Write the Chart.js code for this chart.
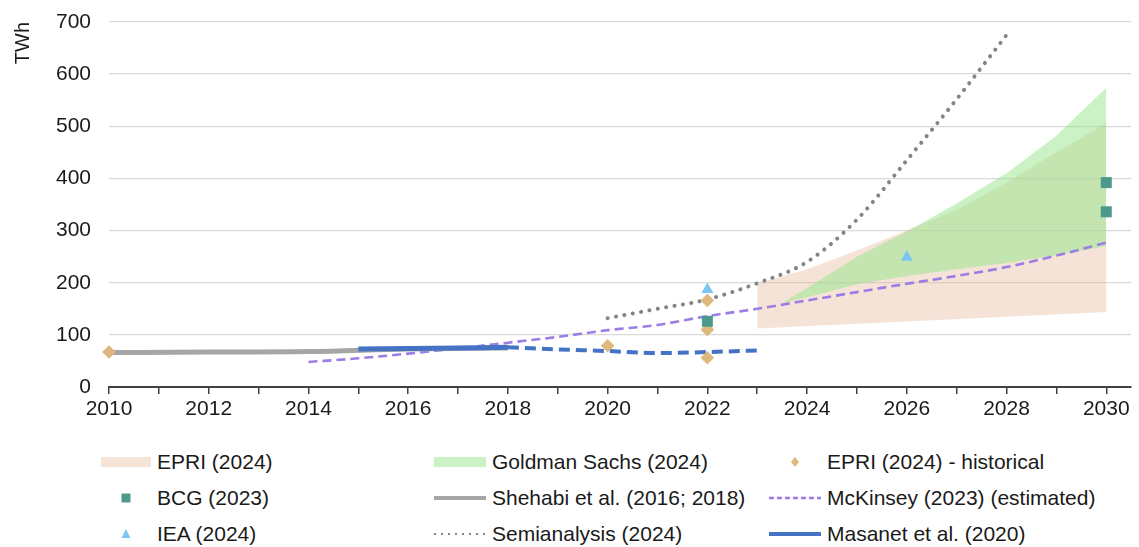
<!DOCTYPE html>
<html lang="en">
<head>
  <meta charset="UTF-8">
  <title>Data centre electricity use estimates</title>
  <style>
    body {
      margin: 0;
      background: #fff;
      font-family: 'Liberation Sans', Arial, sans-serif;
    }
    #wrap {
      position: relative;
      width: 1139px;
      height: 547px;
    }
    .chart-box {
      position: absolute;
      left: 0;
      top: 0;
      width: 1139px;
      height: 430px;
    }
    #legend {
      position: absolute;
      left: 0;
      top: 444px;
      width: 1139px;
    }
    .legend-item {
      position: absolute;
      display: flex;
      align-items: center;
      height: 36px;
      font-size: 21px;
      color: #1a1a1a;
      white-space: nowrap;
    }
    .legend-item canvas {
      margin-right: 6px;
    }
  </style>
  <script src="https://cdn.jsdelivr.net/npm/chart.js"></script>
</head>
<body>
  <div id="wrap">
    <div class="chart-box"><canvas id="chart"></canvas></div>
    <div id="legend"></div>
  </div>

  <script>
    // Values (TWh)
    const epriBandUpperX = [2023, 2024, 2025, 2026, 2027, 2028, 2029, 2030];
    const epriBandUpperY = [199, 226, 262, 300, 340, 392, 450, 506];
    const epriBandLowerX = [2023, 2030];
    const epriBandLowerY = [112, 144];

    const gsUpperX = [2023.5, 2024, 2025, 2026, 2027, 2028, 2029, 2030];
    const gsUpperY = [161, 190, 250, 298, 352, 410, 482, 574];
    const gsLowerX = [2023.5, 2024, 2025, 2026, 2027, 2028, 2029, 2030];
    const gsLowerY = [161, 172, 197, 213, 226, 238, 253, 270];

    const epriHistX = [2010, 2020, 2022, 2022, 2022];
    const epriHistY = [67, 79, 166, 110, 56];

    const bcgX = [2022, 2030, 2030];
    const bcgY = [126, 392, 336];

    const ieaX = [2022, 2026];
    const ieaY = [187, 249];

    const shehabiX = [2010, 2012, 2014, 2016, 2018];
    const shehabiY = [66, 67, 68, 73, 75];

    const mckinseyX = [2014, 2015, 2016, 2017, 2018, 2019, 2020, 2021, 2022, 2023, 2024, 2025, 2026, 2027, 2028, 2029, 2030];
    const mckinseyY = [48, 55, 64, 74, 85, 96, 109, 119, 136, 150, 166, 182, 198, 213, 230, 252, 277];

    const semiX = [2020, 2021, 2022, 2023, 2024, 2025, 2026, 2027, 2028];
    const semiY = [132, 150, 168, 199, 240, 321, 435, 552, 675];

    const masanetX = [2015, 2016, 2017, 2018];
    const masanetY = [73, 74, 75, 76];
    const masanetProjX = [2018, 2019, 2020, 2021, 2022, 2023];
    const masanetProjY = [76, 72, 69, 65, 67, 70];

    const yTicks = [0, 100, 200, 300, 400, 500, 600, 700];

    const colors = {
      epri: 'rgba(228,186,152,0.4)',
      gs: 'rgba(150,230,140,0.5)',
      hist: '#deb97e',
      bcg: '#4d9a8c',
      iea: '#7cc7f2',
      shehabi: '#a6a6a6',
      mckinsey: '#9a7ee6',
      semi: '#858585',
      masanet: '#4472c4'
    };

    const pts = (xs, ys) => xs.map((x, i) => ({ x: x, y: ys[i] }));

    const markerSet = (label, xs, ys, color, style, radius) => ({
      label: label,
      data: pts(xs, ys),
      showLine: false,
      clip: false,
      pointStyle: style,
      pointRadius: radius,
      pointBackgroundColor: color,
      pointBorderWidth: 0,
      borderColor: color,
      backgroundColor: color
    });

    const lineSet = (label, xs, ys, color, width, dash, cap) => ({
      label: label,
      data: pts(xs, ys),
      borderColor: color,
      borderWidth: width,
      borderDash: dash || [],
      borderCapStyle: cap || 'butt',
      pointRadius: 0,
      fill: false,
      cubicInterpolationMode: 'monotone'
    });

    // first dataset is drawn on top
    const datasets = [
      markerSet('BCG (2023)', bcgX, bcgY, colors.bcg, 'rect', 7.8),
      markerSet('EPRI (2024) - historical', epriHistX, epriHistY, colors.hist, 'rectRot', 6.8),
      markerSet('IEA (2024)', ieaX, ieaY, colors.iea, 'triangle', 7),
      lineSet('Masanet et al. (2020)', masanetX, masanetY, colors.masanet, 5),
      lineSet('Masanet proj', masanetProjX, masanetProjY, colors.masanet, 4, [11, 6]),
      lineSet('Shehabi et al. (2016; 2018)', shehabiX, shehabiY, colors.shehabi, 5),
      lineSet('McKinsey (2023) (estimated)', mckinseyX, mckinseyY, colors.mckinsey, 2.6, [9, 5]),
      lineSet('Semianalysis (2024)', semiX, semiY, colors.semi, 4, [0.1, 8.4], 'round'),
      {
        label: 'Goldman Sachs (2024)',
        data: pts(gsUpperX, gsUpperY),
        borderWidth: 0,
        pointRadius: 0,
        backgroundColor: colors.gs,
        fill: '+1'
      },
      {
        label: 'gs lower',
        data: pts(gsLowerX, gsLowerY),
        borderWidth: 0,
        pointRadius: 0,
        fill: false
      },
      {
        label: 'EPRI (2024)',
        data: pts(epriBandUpperX, epriBandUpperY),
        borderWidth: 0,
        pointRadius: 0,
        backgroundColor: colors.epri,
        fill: '+1'
      },
      {
        label: 'epri lower',
        data: pts(epriBandLowerX, epriBandLowerY),
        borderWidth: 0,
        pointRadius: 0,
        fill: false
      }
    ];

    const chartHeight = 430;
    const plotBottom = 387;

    new Chart(document.getElementById('chart'), {
      type: 'line',
      data: { datasets: datasets },
      options: {
        responsive: true,
        maintainAspectRatio: false,
        animation: false,
        layout: { padding: { top: 22, right: 7, left: 0, bottom: 0 } },
        plugins: {
          legend: { display: false },
          tooltip: { enabled: false },
          filler: { drawTime: 'beforeDatasetsDraw' }
        },
        scales: {
          x: {
            type: 'linear',
            min: 2010,
            max: 2030.5,
            afterFit: scale => { scale.height = chartHeight - plotBottom; },
            grid: {
              drawOnChartArea: false,
              drawTicks: true,
              tickLength: 7,
              color: '#404040',
              lineWidth: 1.5
            },
            border: { display: true, color: '#404040', width: 2 },
            ticks: {
              stepSize: 1,
              autoSkip: false,
              includeBounds: false,
              maxRotation: 0,
              padding: 3,
              color: '#1a1a1a',
              font: { family: "'Liberation Sans', Arial, sans-serif", size: 21 },
              callback: v => (v % 2 === 0 ? String(v) : '')
            }
          },
          y: {
            min: 0,
            max: 700,
            afterBuildTicks: scale => { scale.ticks = yTicks.map(v => ({ value: v })); },
            afterFit: scale => {
              // fixed plot-area edge; tick padding should not push the top down
              scale.width = 109;
              scale.paddingTop = 0;
              scale.paddingBottom = 0;
            },
            grid: { color: '#d9d9d9', lineWidth: 1.3, drawTicks: false },
            border: { display: false },
            ticks: {
              padding: 18,
              color: '#1a1a1a',
              font: { family: "'Liberation Sans', Arial, sans-serif", size: 21 }
            },
            title: {
              display: true,
              text: 'TWh',
              align: 'end',
              color: '#1a1a1a',
              padding: { top: 11, bottom: 0 },
              font: { family: "'Liberation Sans', Arial, sans-serif", size: 20 }
            }
          }
        }
      }
    });

    // Legend laid out as three columns, like the original figure
    const legendItems = [
      { label: 'EPRI (2024)', kind: 'box', color: colors.epri },
      { label: 'Goldman Sachs (2024)', kind: 'box', color: colors.gs },
      { label: 'EPRI (2024) - historical', kind: 'diamond', color: colors.hist },
      { label: 'BCG (2023)', kind: 'square', color: colors.bcg },
      { label: 'Shehabi et al. (2016; 2018)', kind: 'line', color: colors.shehabi, width: 4 },
      { label: 'McKinsey (2023) (estimated)', kind: 'line', color: colors.mckinsey, width: 2.4, dash: [5, 3] },
      { label: 'IEA (2024)', kind: 'triangle', color: colors.iea },
      { label: 'Semianalysis (2024)', kind: 'line', color: colors.semi, width: 2, dash: [2, 5] },
      { label: 'Masanet et al. (2020)', kind: 'line', color: colors.masanet, width: 4 }
    ];
    const colLeft = [101, 434, 769];
    const swatchW = [50, 52, 52];

    const legendEl = document.getElementById('legend');
    legendItems.forEach((item, i) => {
      const col = i % 3;
      const row = Math.floor(i / 3);
      const div = document.createElement('div');
      div.className = 'legend-item';
      div.style.left = colLeft[col] + 'px';
      div.style.top = (row * 36) + 'px';

      const c = document.createElement('canvas');
      const w = swatchW[col];
      c.width = w;
      c.height = 20;
      const ctx = c.getContext('2d');
      const cx = w / 2, cy = 10;
      ctx.fillStyle = item.color;
      ctx.strokeStyle = item.color;
      if (item.kind === 'box') {
        ctx.fillRect(0, cy - 5, w, 10);
      } else if (item.kind === 'line') {
        ctx.lineWidth = item.width;
        ctx.setLineDash(item.dash || []);
        ctx.beginPath();
        ctx.moveTo(0, cy);
        ctx.lineTo(w, cy);
        ctx.stroke();
      } else if (item.kind === 'square') {
        ctx.fillRect(cx - 4.5, cy - 4.5, 9, 9);
      } else if (item.kind === 'triangle') {
        ctx.beginPath();
        ctx.moveTo(cx, cy - 5);
        ctx.lineTo(cx + 4.5, cy + 4);
        ctx.lineTo(cx - 4.5, cy + 4);
        ctx.closePath();
        ctx.fill();
      } else if (item.kind === 'diamond') {
        ctx.beginPath();
        ctx.moveTo(cx, cy - 5);
        ctx.lineTo(cx + 4, cy);
        ctx.lineTo(cx, cy + 5);
        ctx.lineTo(cx - 4, cy);
        ctx.closePath();
        ctx.fill();
      }
      div.appendChild(c);

      const span = document.createElement('span');
      span.textContent = item.label;
      div.appendChild(span);
      legendEl.appendChild(div);
    });
  </script>
</body>
</html>
